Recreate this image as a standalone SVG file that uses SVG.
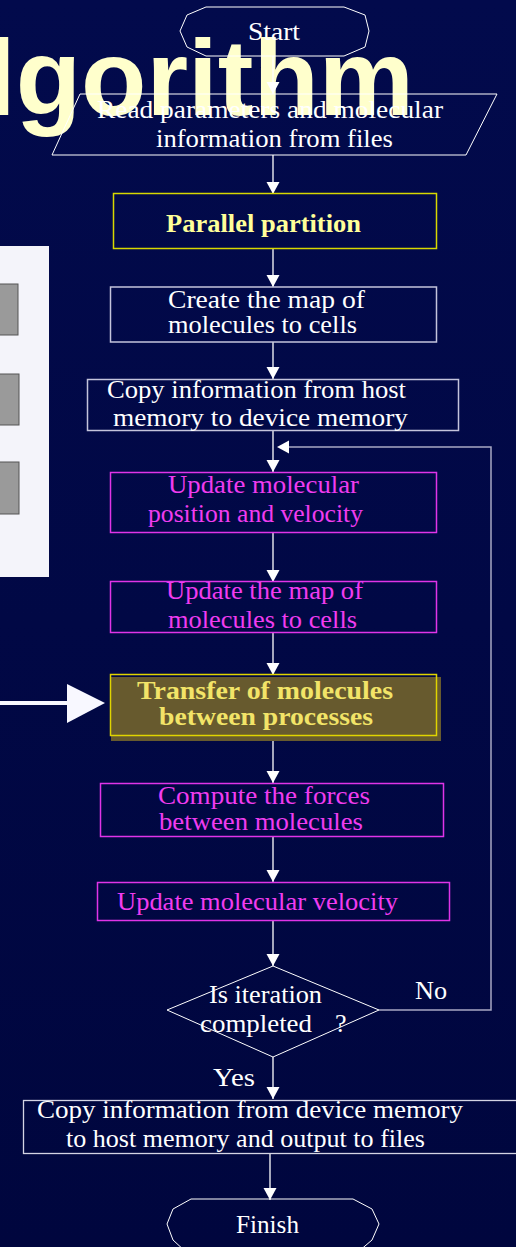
<svg xmlns="http://www.w3.org/2000/svg" width="516" height="1247" viewBox="0 0 516 1247">
  <defs>
    <linearGradient id="bg" x1="0" y1="0" x2="0" y2="1">
      <stop offset="0" stop-color="#020a4c"/>
      <stop offset="1" stop-color="#00063e"/>
    </linearGradient>
    <marker id="arr" markerUnits="userSpaceOnUse" markerWidth="14" markerHeight="14" refX="12" refY="6.5" orient="auto">
      <path d="M0,0 L12,6.5 L0,13 z" fill="#ffffff"/>
    </marker>
    <style>
      .t { font-family: "Liberation Serif", "Times New Roman", serif; font-size: 26px; fill: #ffffff; }
      .m { fill: #f03cf0; }
      .yb { font-weight: bold; fill: #ffff99; }
      .ty { font-weight: bold; fill: #f2e468; }
      .term { fill: none; stroke: #ffffff; stroke-width: 1; }
      .wbox { fill: none; stroke: #c4c4dc; stroke-width: 1.5; }
      .mbox { fill: none; stroke: #e034e8; stroke-width: 1.5; }
      .conn { fill: none; stroke: #ffffff; stroke-width: 1.3; marker-end: url(#arr); }
      .loop { fill: none; stroke: #a8a8c4; stroke-width: 1.5; }
      .sq { fill: #9a9a9a; stroke: #555555; stroke-width: 1; }
    </style>
  </defs>

  <rect x="0" y="0" width="516" height="1247" fill="url(#bg)"/>

  <g id="title">
    <text x="-14" y="115" font-family="'Liberation Sans', Arial, sans-serif" font-size="107" font-weight="bold" fill="#ffffcc">lgorithm</text>
  </g>

  <g id="side-panel">
    <rect x="0" y="246" width="49" height="331" fill="#f4f4fa"/>
    <rect class="sq" x="-2" y="284" width="20" height="51"/>
    <rect class="sq" x="-2" y="374" width="21" height="51"/>
    <rect class="sq" x="-2" y="462" width="21" height="52"/>
  </g>

  <g id="big-arrow">
    <line x1="0" y1="703" x2="68" y2="703" stroke="#f8f8ff" stroke-width="4"/>
    <polygon points="67,684 105,703 67,723" fill="#f8f8ff"/>
  </g>

  <g id="connectors">
    <line class="conn" x1="273" y1="56" x2="273" y2="94"/>
    <line class="conn" x1="273" y1="155" x2="273" y2="194"/>
    <line class="conn" x1="273" y1="248" x2="273" y2="287"/>
    <line class="conn" x1="273" y1="342" x2="273" y2="379"/>
    <line class="conn" x1="273" y1="431" x2="273" y2="472"/>
    <line class="conn" x1="273" y1="533" x2="273" y2="582"/>
    <line class="conn" x1="273" y1="633" x2="273" y2="675"/>
    <line class="conn" x1="273" y1="741" x2="273" y2="783"/>
    <line class="conn" x1="273" y1="837" x2="273" y2="882"/>
    <line class="conn" x1="273" y1="920" x2="273" y2="966"/>
    <line class="conn" x1="273" y1="1057" x2="273" y2="1099"/>
    <line class="conn" x1="270" y1="1154" x2="270" y2="1200"/>
    <polyline class="loop" points="379,1010 491,1010 491,447 288,447"/>
    <polygon points="289,440.5 277,447 289,453.5" fill="#ffffff"/>
    <text class="t" x="415" y="999" textLength="32" lengthAdjust="spacingAndGlyphs">No</text>
    <text class="t" x="213" y="1086" textLength="42" lengthAdjust="spacingAndGlyphs">Yes</text>
  </g>

  <g id="start">
    <polygon class="term" points="206,7 344,7 365,15 369,31 365,47 344,56 206,56 187,47 180,31 187,15"/>
    <text class="t" x="248" y="40" textLength="52" lengthAdjust="spacingAndGlyphs">Start</text>
  </g>

  <g id="read">
    <polygon class="term" points="80,94 497,94 466,155 52,155"/>
    <text class="t" x="97" y="118" textLength="346" lengthAdjust="spacingAndGlyphs">Read parameters and molecular</text>
    <text class="t" x="156" y="147" textLength="237" lengthAdjust="spacingAndGlyphs">information from files</text>
  </g>

  <g id="partition">
    <rect x="113.5" y="193.5" width="323" height="55" fill="none" stroke="#d8d800" stroke-width="1.5"/>
    <text class="t yb" x="166" y="232" textLength="195" lengthAdjust="spacingAndGlyphs">Parallel partition</text>
  </g>

  <g id="create-map">
    <rect class="wbox" x="110.5" y="287" width="326" height="55"/>
    <text class="t" x="168" y="308" textLength="197" lengthAdjust="spacingAndGlyphs">Create the map of</text>
    <text class="t" x="168" y="333" textLength="189" lengthAdjust="spacingAndGlyphs">molecules to cells</text>
  </g>

  <g id="copy-to-device">
    <rect class="wbox" x="87.5" y="379.5" width="371" height="51"/>
    <text class="t" x="107" y="398" textLength="299" lengthAdjust="spacingAndGlyphs">Copy information from host</text>
    <text class="t" x="113" y="426" textLength="295" lengthAdjust="spacingAndGlyphs">memory to device memory</text>
  </g>

  <g id="update-pos">
    <rect class="mbox" x="110.5" y="472.5" width="326" height="60"/>
    <text class="t m" x="168" y="493" textLength="191" lengthAdjust="spacingAndGlyphs">Update molecular</text>
    <text class="t m" x="148" y="522" textLength="215" lengthAdjust="spacingAndGlyphs">position and velocity</text>
  </g>

  <g id="update-map">
    <rect class="mbox" x="110.5" y="581.5" width="326" height="51"/>
    <text class="t m" x="166" y="599" textLength="197" lengthAdjust="spacingAndGlyphs">Update the map of</text>
    <text class="t m" x="168" y="628" textLength="189" lengthAdjust="spacingAndGlyphs">molecules to cells</text>
  </g>

  <g id="transfer">
    <rect x="111" y="677" width="330" height="64" fill="#675a2e"/>
    <rect x="110.5" y="674.5" width="326" height="61" fill="none" stroke="#e0d400" stroke-width="1.5"/>
    <text class="t ty" x="137" y="699" textLength="256" lengthAdjust="spacingAndGlyphs">Transfer of molecules</text>
    <text class="t ty" x="159" y="725" textLength="214" lengthAdjust="spacingAndGlyphs">between processes</text>
  </g>

  <g id="compute">
    <rect class="mbox" x="100.5" y="783.5" width="343" height="53"/>
    <text class="t m" x="158" y="804" textLength="212" lengthAdjust="spacingAndGlyphs">Compute the forces</text>
    <text class="t m" x="159" y="830" textLength="204" lengthAdjust="spacingAndGlyphs">between molecules</text>
  </g>

  <g id="update-vel">
    <rect class="mbox" x="97.5" y="882.5" width="352" height="38"/>
    <text class="t m" x="117" y="910" textLength="281" lengthAdjust="spacingAndGlyphs">Update molecular velocity</text>
  </g>

  <g id="decision">
    <polygon class="term" points="273,966 379,1010 273,1057 167,1010"/>
    <text class="t" x="209" y="1003" textLength="113" lengthAdjust="spacingAndGlyphs">Is iteration</text>
    <text class="t" x="200" y="1032"><tspan textLength="112" lengthAdjust="spacingAndGlyphs">completed</tspan> <tspan x="335">?</tspan></text>
  </g>

  <g id="copy-to-host">
    <rect x="23.5" y="1100.5" width="520" height="53" fill="none" stroke="#d4d4e4" stroke-width="1.3"/>
    <text class="t" x="37" y="1118" textLength="426" lengthAdjust="spacingAndGlyphs">Copy information from device memory</text>
    <text class="t" x="66" y="1147" textLength="359" lengthAdjust="spacingAndGlyphs">to host memory and output to files</text>
  </g>

  <g id="finish">
    <polygon class="term" points="191,1199 353,1199 372,1209 379,1224 372,1240 358,1252 186,1252 173,1240 167,1224 173,1209"/>
    <text class="t" x="236" y="1233" textLength="63" lengthAdjust="spacingAndGlyphs">Finish</text>
  </g>
</svg>
